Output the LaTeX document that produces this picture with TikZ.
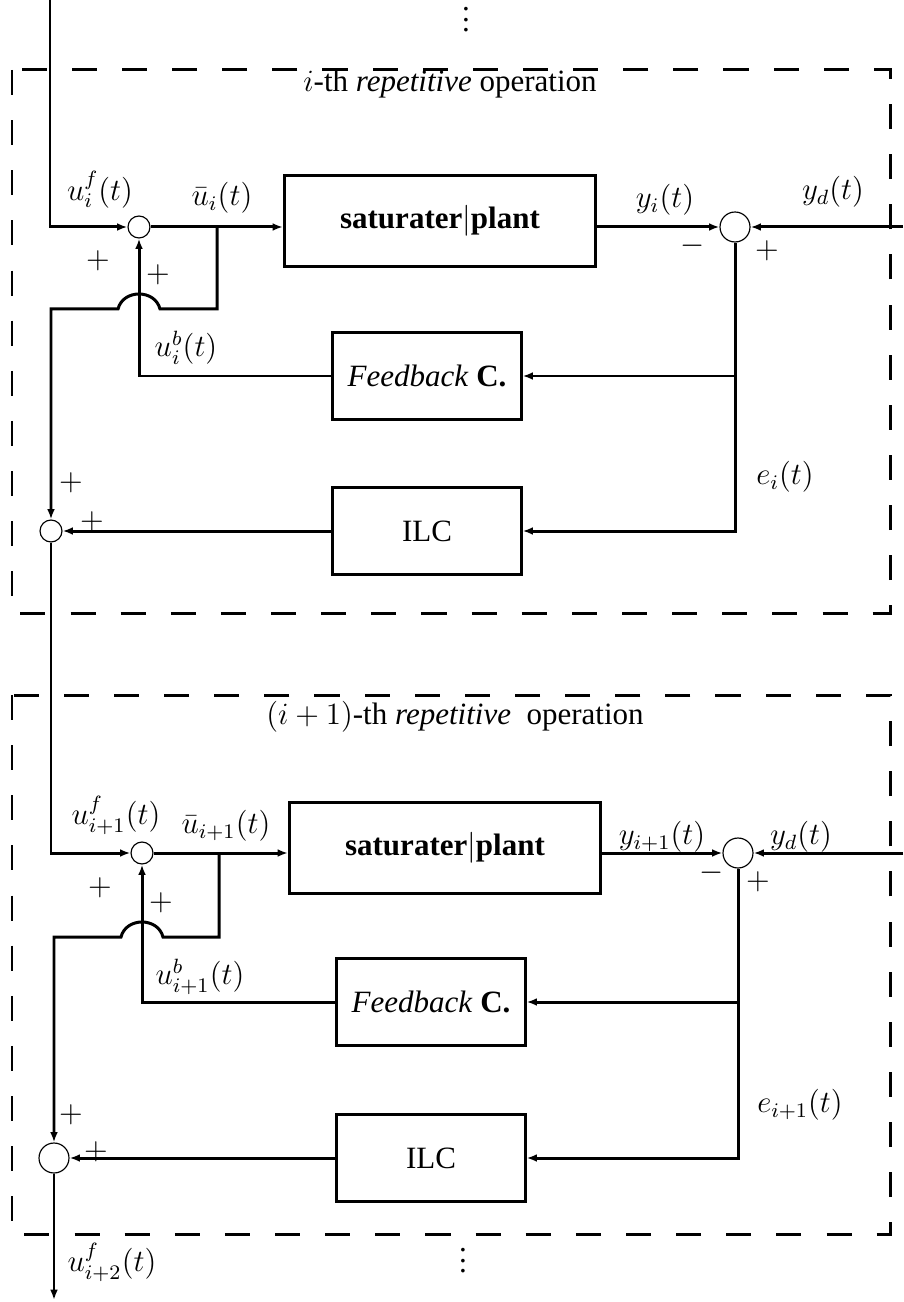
\documentclass[tikz,border=0pt]{standalone}
\usepackage{fontspec}
\setmainfont{Liberation Serif}
\usetikzlibrary{arrows.meta}
\tikzset{
  blk/.style={draw, line width=1.16pt, inner sep=0pt},
  plantblk/.style={blk, minimum width=120.4pt, minimum height=35.2pt},
  ctrlblk/.style={blk, minimum width=72.8pt, minimum height=33.7pt},
  sumsm/.style={circle, draw, line width=0.45pt, inner sep=0pt, minimum size=8.5pt},
  sumlg/.style={sumsm, minimum size=11.6pt},
  sig/.style={-{Latex[length=4pt,width=3pt]}, line width=1.16pt},
  wire/.style={line width=1.16pt},
  frame/.style={line width=1.16pt, dash pattern=on 9.7pt off 9.7pt},
  sgn/.style={inner sep=0pt},
}
\begin{document}
\begin{tikzpicture}[x=0.387pt, y=-0.387pt, font=\fontsize{12}{14}\selectfont]
\useasboundingbox (0,0) rectangle (903,1302);

% ── i-th operation ──────────────────────────────────────────────
\draw[frame] (12,70) rectangle (890,613);
\node (title1) at (450,84) {$i$-th \textit{repetitive} operation};

\node[sumsm]    (sumf1)  at (139,227) {};
\node[plantblk] (plant1) at (440,221) {\textbf{saturater}$|$\textbf{plant}};
\node[sumlg]    (sume1)  at (735,227) {};
\node[ctrlblk]  (fb1)    at (427,376) {\textit{Feedback} \textbf{C.}};
\node[ctrlblk]  (ilc1)   at (427,531) {ILC};
\node[sumsm]    (sumo1)  at (51,531)  {};

\coordinate (in1)   at (50,0);
\coordinate (yd1)   at (903,227);
\coordinate (jun1)  at (217,227);
\coordinate (tap1)  at (217,309);
\coordinate (jmpR1) at (160,309);
\coordinate (jmpL1) at (118,309);

\draw[sig] (in1) |- (sumf1.west);
\draw[sig] (sumf1.east) -- (sumf1.east -| plant1.west);
\draw[sig] (plant1.east |- sume1.west) -- (sume1.west);
\draw[sig] (yd1) -- (sume1.east);
\draw[sig] (sume1.south) |- (fb1.east);
\draw[sig] (sume1.south) |- (ilc1.east);
\draw[sig] (fb1.west) -| (sumf1.south);
\draw[sig] (ilc1.west) -- (sumo1.east);
\draw[sig] (jun1) -- (tap1) -- (jmpR1)
  .. controls +(-5,-20) and +(5,-20) .. (jmpL1) -| (sumo1.north);

\node (uf1)  at (100,190) {$u_i^f(t)$};
\node (ub1)  at (222,198) {$\bar{u}_i(t)$};
\node (y1)   at (665,200) {$y_i(t)$};
\node (ydl1) at (833,192) {$y_d(t)$};
\node (ubb1) at (186,348) {$u_i^b(t)$};
\node (e1)   at (785,477) {$e_i(t)$};
\node[sgn] at (98,261)  {$+$};
\node[sgn] at (158,275) {$+$};
\node[sgn] at (693,246) {$-$};
\node[sgn] at (767,251) {$+$};
\node[sgn] at (71,483)  {$+$};
\node[sgn] at (92,522)  {$+$};

% ── (i+1)-th operation ──────────────────────────────────────────
\draw[frame] (12,695) rectangle (890,1234);
\node (title2) at (455,717) {$(i+1)$-th \textit{repetitive}\ \ operation};

\node[sumsm]    (sumf2)  at (142,853) {};
\node[plantblk] (plant2) at (445,848) {\textbf{saturater}$|$\textbf{plant}};
\node[sumlg]    (sume2)  at (738,853) {};
\node[ctrlblk]  (fb2)    at (431,1002) {\textit{Feedback} \textbf{C.}};
\node[ctrlblk]  (ilc2)   at (431,1158) {ILC};
\node[sumlg]    (sumo2)  at (54,1158)  {};

\coordinate (yd2)   at (903,853);
\coordinate (jun2)  at (219,853);
\coordinate (tap2)  at (219,937);
\coordinate (jmpR2) at (163,937);
\coordinate (jmpL2) at (121,937);
\coordinate (out2)  at (54,1300);

\draw[sig] (sumo1.south) |- (sumf2.west);
\draw[sig] (sumf2.east) -- (sumf2.east -| plant2.west);
\draw[sig] (plant2.east |- sume2.west) -- (sume2.west);
\draw[sig] (yd2) -- (sume2.east);
\draw[sig] (sume2.south) |- (fb2.east);
\draw[sig] (sume2.south) |- (ilc2.east);
\draw[sig] (fb2.west) -| (sumf2.south);
\draw[sig] (ilc2.west) -- (sumo2.east);
\draw[sig] (jun2) -- (tap2) -- (jmpR2)
  .. controls +(-5,-20) and +(5,-20) .. (jmpL2) -| (sumo2.north);
\draw[sig] (sumo2.south) -- (out2);

\node (uf2)  at (116,815) {$u_{i+1}^f(t)$};
\node (ub2)  at (226,826) {$\bar{u}_{i+1}(t)$};
\node (y2)   at (662,837) {$y_{i+1}(t)$};
\node (ydl2) at (801,837) {$y_d(t)$};
\node (ubb2) at (200,977) {$u_{i+1}^b(t)$};
\node (e2)   at (800,1105) {$e_{i+1}(t)$};
\node (uf3)  at (112,1262) {$u_{i+2}^f(t)$};
\node[sgn] at (100,888)  {$+$};
\node[sgn] at (161,903)  {$+$};
\node[sgn] at (712,873)  {$-$};
\node[sgn] at (758,882)  {$+$};
\node[sgn] at (71,1115)  {$+$};
\node[sgn] at (96,1152)  {$+$};

% ── continuation dots ───────────────────────────────────────────
\node[sgn] (dotsT) at (466,12)   {$\vdots$};
\node[sgn] (dotsB) at (463,1253) {$\vdots$};

\end{tikzpicture}
\end{document}
